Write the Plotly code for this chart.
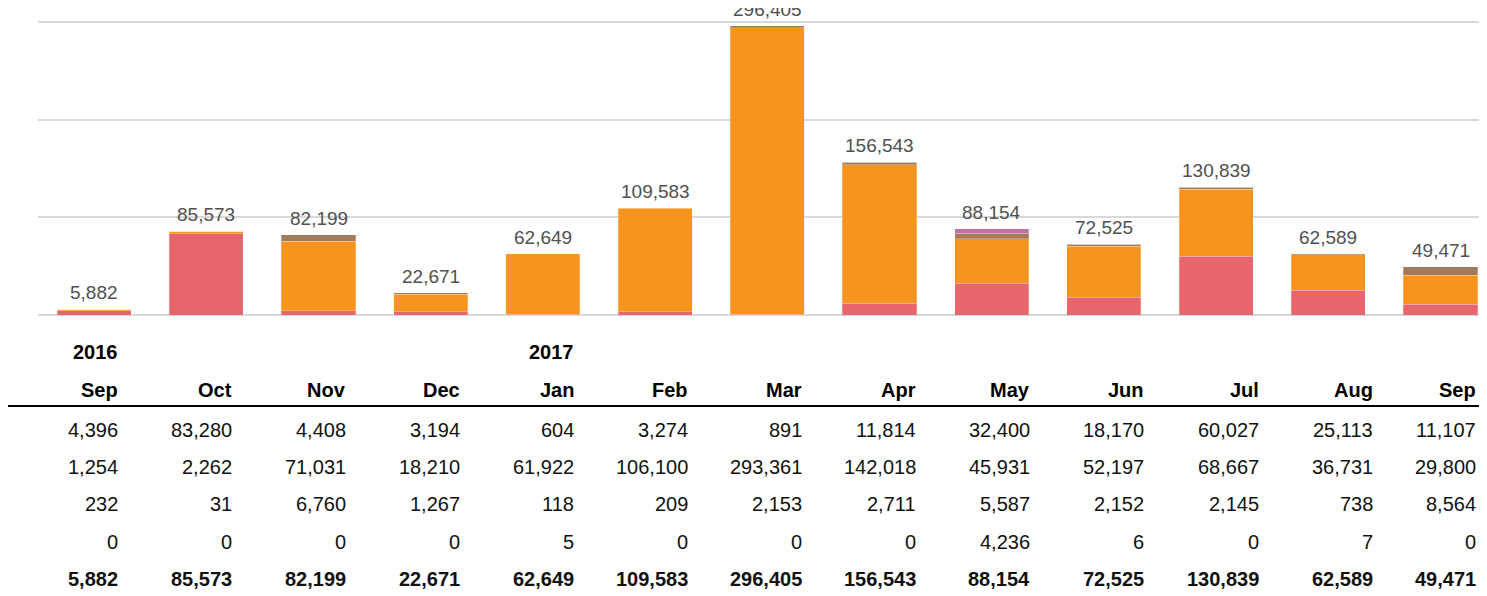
import plotly.graph_objects as go

months = ["Sep", "Oct", "Nov", "Dec", "Jan", "Feb", "Mar", "Apr", "May", "Jun", "Jul", "Aug", "Sep"]
years = ["2016", "", "", "", "2017", "", "", "", "", "", "", "", ""]
series_names = ["Series 1", "Series 2", "Series 3", "Series 4"]
s1 = [4396, 83280, 4408, 3194, 604, 3274, 891, 11814, 32400, 18170, 60027, 25113, 11107]
s2 = [1254, 2262, 71031, 18210, 61922, 106100, 293361, 142018, 45931, 52197, 68667, 36731, 29800]
s3 = [232, 31, 6760, 1267, 118, 209, 2153, 2711, 5587, 2152, 2145, 738, 8564]
s4 = [0, 0, 0, 0, 5, 0, 0, 0, 4236, 6, 0, 7, 0]
totals = [5882, 85573, 82199, 22671, 62649, 109583, 296405, 156543, 88154, 72525, 130839, 62589, 49471]

colors = ["#E8656D", "#F7941E", "#A07A5A", "#C86E9E"]
FONT = "Liberation Sans, Arial, sans-serif"

OFF = 8  # page body margin
W, H = 1487 - OFF, 596 - OFF
ML, MT = 38 - OFF, 10 - OFF
PLOT_BOTTOM = 315 - OFF
MB = H - PLOT_BOTTOM
plot_h = PLOT_BOTTOM - MT
plot_w = W - ML
px_per_unit = 293 / 300000
y_max = plot_h / px_per_unit
cat_px = 112.2
x_max = -0.5 + plot_w / cat_px

x = list(range(len(months)))
fig = go.Figure()
for name, vals, c in zip(series_names, [s1, s2, s3, s4], colors):
    fig.add_trace(go.Bar(x=x, y=vals, name=name,
                         marker=dict(color=c, line=dict(width=0.5, color="rgba(255,255,255,0.5)")),
                         hoverinfo="y+name"))

def py(p):
    return (PLOT_BOTTOM - (p - OFF)) / plot_h

def px(p):
    return ((p - OFF) - ML) / plot_w

ann = []
for i, t in enumerate(totals):
    ann.append(dict(x=i, y=t, xref="x", yref="y", text=f"{t:,}", showarrow=False,
                    yanchor="bottom", yshift=4, font=dict(family=FONT, size=19, color="#505050")))

rows = [s1, s2, s3, s4, totals]
row_y = [430, 467, 504, 542, 579]
for i in range(len(months)):
    right = min(119.5 + 114.1 * i, 1478)
    xr = px(right)
    if years[i]:
        ann.append(dict(x=xr, y=py(352), xref="paper", yref="paper", text=f"<b>{years[i]}</b>", showarrow=False,
                        xanchor="right", yanchor="middle", font=dict(family=FONT, size=20, color="#000")))
    ann.append(dict(x=xr, y=py(390), xref="paper", yref="paper", text=f"<b>{months[i]}</b>", showarrow=False,
                    xanchor="right", yanchor="middle", font=dict(family=FONT, size=20, color="#000")))
    for r, (vals, ry) in enumerate(zip(rows, row_y)):
        txt = f"{vals[i]:,}"
        if r == len(rows) - 1:
            txt = f"<b>{txt}</b>"
        ann.append(dict(x=xr, y=py(ry), xref="paper", yref="paper", text=txt, showarrow=False,
                        xanchor="right", yanchor="middle", font=dict(family=FONT, size=20, color="#111")))

fig.update_layout(
    width=W, height=H,
    margin=dict(l=ML, r=0, t=MT, b=MB),
    barmode="stack", bargap=0.34,
    showlegend=False,
    plot_bgcolor="white", paper_bgcolor="white",
    xaxis=dict(range=[-0.5, x_max], showticklabels=False, showgrid=False, zeroline=False, showline=False, fixedrange=True),
    yaxis=dict(range=[0, y_max], dtick=100000, showticklabels=False, showgrid=True, gridcolor="#D9D9D9", gridwidth=1.5,
               zeroline=True, zerolinecolor="#D9D9D9", zerolinewidth=1.5, showline=False, fixedrange=True),
    annotations=ann,
    shapes=[dict(type="line", xref="paper", yref="paper", x0=px(0), x1=1, y0=py(406), y1=py(406),
                 line=dict(color="#000", width=2))],
    font=dict(family=FONT),
)

fig.write_html("out.html")
